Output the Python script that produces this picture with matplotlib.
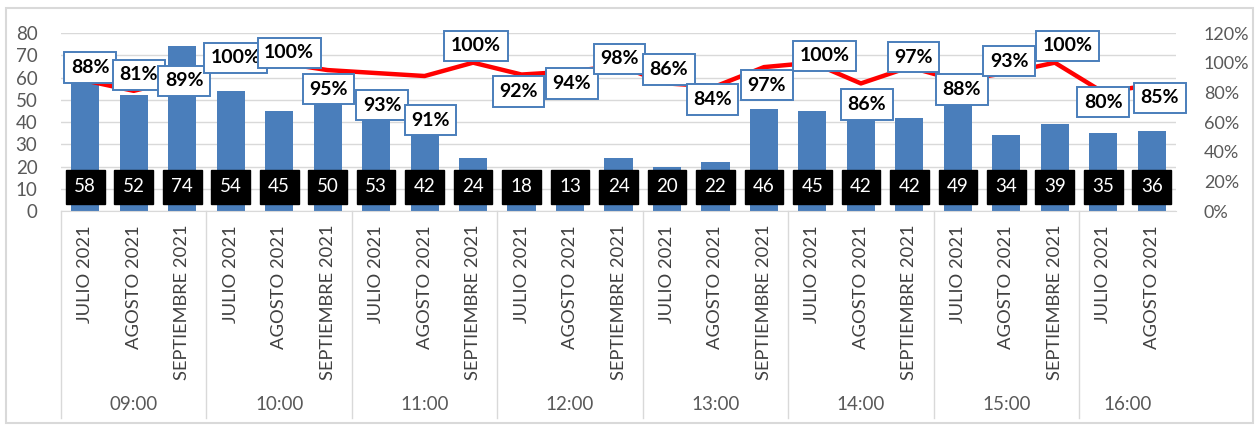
import numpy as np
import matplotlib
matplotlib.use("Agg")
import matplotlib.pyplot as plt
from matplotlib.patches import Rectangle
import matplotlib.transforms as mtransforms

plt.rcParams["font.family"] = ["Lato", "DejaVu Sans"]

# ---- data ----
hours = ["09:00", "10:00", "11:00", "12:00", "13:00", "14:00", "15:00", "16:00"]
months = ["JULIO 2021", "AGOSTO 2021", "SEPTIEMBRE 2021"]
group_sizes = [3, 3, 3, 3, 3, 3, 3, 2]
counts = [58, 52, 74, 54, 45, 50, 53, 42, 24, 18, 13, 24,
          20, 22, 46, 45, 42, 42, 49, 34, 39, 35, 36]
pct = [88, 81, 89, 100, 100, 95, 93, 91, 100, 92, 94, 98,
       86, 84, 97, 100, 86, 97, 88, 93, 100, 80, 85]

# label placement (pixels: dx right, dy down) for the % boxes, as Excel put them
pct_offsets = [(5, -13), (5, -16), (2, 2), (5, -5), (10, -10), (1, 19), (6, 32),
               (6, 44), (3, -17), (-3, 17), (2, 12), (1, -7), (2, -14), (-3, 13),
               (3, 18), (12, -7), (6, 21), (4, -10), (4, 9), (3, -12), (13, -17),
               (0, 10), (8, 13)]

month_labels = [months[i] for n in group_sizes for i in range(n)]
x = np.arange(len(counts))

GRAY = "#595959"
GRID = "#d9d9d9"
BLUE = "#4A7EBB"
W, H = 1256, 426

fig = plt.figure(figsize=(W / 100, H / 100), dpi=100)
ax = fig.add_axes([61 / W, (H - 211) / H, 1115 / W, 178 / H])
ax2 = ax.twinx()

# bars + left axis
ax.bar(x, counts, 0.58, color=BLUE, zorder=2)
ax.set_xlim(-0.5, len(counts) - 0.5)
ax.set_ylim(0, 80)
ax.set_yticks(range(0, 81, 10))
ax.grid(axis="y", color=GRID, lw=1, zorder=0)
ax.set_axisbelow(True)
for s in ["top", "right", "left"]:
    ax.spines[s].set_visible(False)
ax.spines["bottom"].set_color(GRID)
ax.tick_params(axis="y", length=0, pad=17, labelsize=13.5, labelcolor=GRAY)
ax.set_xticks(x)
ax.set_xticklabels(month_labels, rotation=90, va="top", ha="center")
ax.tick_params(axis="x", length=0, pad=10, labelsize=13.2, labelcolor="#404040")

# black count boxes near the bottom
btrans = mtransforms.blended_transform_factory(ax.transData, ax.transAxes)
for xi, c in zip(x, counts):
    ax.text(xi, 0.135, str(c), transform=btrans, ha="center", va="center",
            fontsize=13.5, color="white", zorder=5,
            bbox=dict(boxstyle="square,pad=0.45", fc="black", ec="black"))

# group labels and separators under the axis
start = 0
bounds = [0]
for h, n in zip(hours, group_sizes):
    cx = start + (n - 1) / 2
    ax.annotate(h, xy=(cx, 0), xycoords=btrans, xytext=(0, -(405 - 211) * 0.72),
                textcoords="offset points", ha="center", va="center",
                fontsize=13.5, color=GRAY, annotation_clip=False)
    start += n
    bounds.append(start)
for b in bounds[:-1]:
    ax.plot([b - 0.5, b - 0.5], [0, -207 / 178], transform=btrans, color=GRID,
            lw=1, clip_on=False)

# red line on the right axis
vals = np.array(pct) / 100
ax2.plot(x, vals, color="#FF0000", lw=3.2, zorder=3, solid_capstyle="round")
ax2.set_ylim(0, 1.2)
ax2.set_yticks(np.arange(0, 1.21, 0.2))
ax2.set_yticklabels([f"{int(round(v * 100))}%" for v in np.arange(0, 1.21, 0.2)])
for s in ["top", "right", "left", "bottom"]:
    ax2.spines[s].set_visible(False)
ax2.tick_params(axis="y", length=0, pad=20, labelsize=13, labelcolor=GRAY)

for xi, v, p, (dx, dy) in zip(x, vals, pct, pct_offsets):
    ax2.annotate(f"{p}%", xy=(xi, v), xytext=(dx * 0.72, -dy * 0.72),
                 textcoords="offset points", ha="center", va="center",
                 fontsize=14, fontweight="bold", color="black", zorder=6,
                 bbox=dict(boxstyle="square,pad=0.34", fc="white", ec=BLUE, lw=1.4))

# outer chart border
fig.add_artist(Rectangle((6 / W, 3 / H), 1247 / W, 415 / H, transform=fig.transFigure,
                         fill=False, ec=GRID, lw=1.5))

fig.savefig("out.png", dpi=100)
